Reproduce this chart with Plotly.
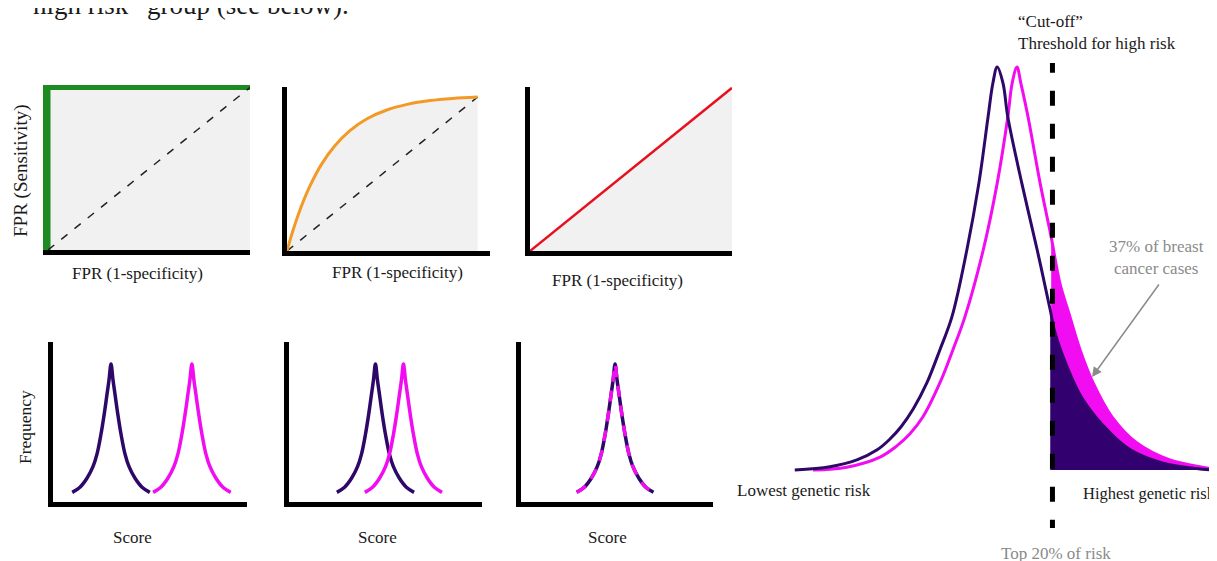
import plotly.graph_objects as go

W, H = 1217, 561
OFF = 8  # the page body adds an 8px margin around the figure

# ------------------------------------------------------------------ data
# Top row: ROC curves (x = false-positive rate, y = sensitivity)
ROC_DIAG_X = [0, 1]
ROC_DIAG_Y = [0, 1]
ROC_PERFECT_X = [0, 0, 1]
ROC_PERFECT_Y = [0, 1, 1]
ROC_GOOD_X = [0, 0.03, 0.07, 0.12, 0.18, 0.25, 0.33, 0.42, 0.52, 0.63, 0.75, 0.87, 1.0]
ROC_GOOD_Y = [0, 0.128, 0.273, 0.421, 0.561, 0.682, 0.782, 0.859, 0.914, 0.952, 0.977, 0.991, 1.0]
ROC_RANDOM_X = [0, 1]
ROC_RANDOM_Y = [0, 1]

# Bottom row: score distributions (peak shape)
PEAK_OFFSET = [-2.0, -1.6, -1.24, -0.93, -0.72, -0.52, -0.36, -0.21, -0.10, 0.0,
               0.10, 0.21, 0.36, 0.52, 0.72, 0.93, 1.24, 1.6, 2.0]
PEAK_FREQ = [0.07, 0.107, 0.172, 0.256, 0.349, 0.489, 0.628, 0.777, 0.888, 1.0,
             0.888, 0.777, 0.628, 0.489, 0.349, 0.256, 0.172, 0.107, 0.07]
SEPARATED_CENTERS = [2.99, 7.16]   # controls, cases
OVERLAP_CENTERS = [4.48, 5.93]
IDENTICAL_CENTERS = [4.90, 4.90]

# Right panel: genetic-risk distributions
RISK_X_CONTROLS = [12.4, 19.7, 25.3, 29.5, 32.0, 34.5, 37.0, 39.8, 42.5, 45.0, 48.1, 50.6,
                   52.5, 53.5, 54.4, 55.6, 56.6, 59.5, 62.7, 65.4, 66.4, 68.9, 72.2, 77.8,
                   82.0, 88.8, 97.1, 100]
RISK_Y_CONTROLS = [0, 0.008, 0.025, 0.050, 0.075, 0.108, 0.152, 0.216, 0.298, 0.380, 0.546,
                   0.712, 0.876, 0.960, 1.0, 0.960, 0.876, 0.712, 0.546, 0.397, 0.340, 0.256,
                   0.174, 0.092, 0.050, 0.017, 0.002, 0]
RISK_X_CASES = [16.2, 23.2, 30.1, 33.4, 36.3, 39.0, 42.5, 45.2, 47.7, 51.5, 54.4, 56.6,
                57.5, 58.5, 59.3, 60.8, 63.3, 65.6, 67.4, 69.5, 71.6, 74.3, 78.2, 83.4,
                90.2, 97.9, 100]
RISK_Y_CASES = [0, 0.007, 0.032, 0.058, 0.090, 0.132, 0.216, 0.298, 0.380, 0.546, 0.712,
                0.876, 0.960, 1.0, 0.960, 0.876, 0.712, 0.578, 0.464, 0.380, 0.298, 0.216,
                0.132, 0.067, 0.025, 0.005, 0]
CUTOFF = 65.86
CUTOFF_SPAN = [-0.161, 1.01]

# ------------------------------------------------------------------ style
PURPLE = "#2e0868"
MAGENTA = "#f20cf2"
GREEN = "#1e8a22"
ORANGE = "#f39a26"
RED = "#e8101e"
FILLGRAY = "#f1f1f1"
TXT = "#1a1a1a"
GRAYTXT = "#8a8a8a"
FONT = "Liberation Serif"
SMOOTH = 1.0


def px(x):
    return (x - OFF) / W


def py(y):
    return 1 - (y - OFF) / H


fig = go.Figure()


def axes(n, xdom, ydom, xr, yr, lines=True, ylinecolor="black"):
    common = dict(showgrid=False, zeroline=False, showticklabels=False,
                  ticks="", fixedrange=True)
    key = "" if n == 1 else str(n)
    xa = dict(domain=[px(xdom[0]), px(xdom[1])], range=xr, anchor="y" + key,
              showline=lines, linecolor="black", linewidth=5, **common)
    ya = dict(domain=[py(ydom[1]), py(ydom[0])], range=yr, anchor="x" + key,
              showline=lines, linecolor=ylinecolor, linewidth=5, **common)
    fig.layout["xaxis" + key] = xa
    fig.layout["yaxis" + key] = ya
    return ("x" + key, "y" + key)


# panels
a1 = axes(1, (48, 250), (85, 250), [0, 1], [0, 1.015], ylinecolor=GREEN)
a2 = axes(2, (287, 490), (87, 251), [0, 1.065], [0, 1.065])
a3 = axes(3, (530, 732), (87, 251), [0, 1], [0, 1.005])
a4 = axes(4, (53, 247), (342, 502), [0, 10], [0, 1.16])
a5 = axes(5, (289, 482), (342, 502), [0, 10], [0, 1.16])
a6 = axes(6, (521, 713), (342, 502), [0, 10], [0, 1.16])
a7 = axes(7, (735, 1217), (55, 528), [0, 100], [-0.144, 1.030], lines=False)


def add(ax, **kw):
    kw.setdefault("mode", "lines")
    kw.setdefault("hoverinfo", "skip")
    fig.add_trace(go.Scatter(xaxis=ax[0], yaxis=ax[1], showlegend=False, **kw))


# ---- ROC panels
add(a1, x=ROC_PERFECT_X, y=ROC_PERFECT_Y, fill="tozeroy", fillcolor=FILLGRAY,
    line=dict(color=GREEN, width=5))
add(a1, x=ROC_DIAG_X, y=ROC_DIAG_Y, line=dict(color="#222", width=1.5, dash="8px,9px"))

add(a2, x=ROC_GOOD_X, y=ROC_GOOD_Y, fill="tozeroy", fillcolor=FILLGRAY,
    line=dict(color=FILLGRAY, width=0, shape="spline"))
add(a2, x=ROC_DIAG_X, y=ROC_DIAG_Y, line=dict(color="#222", width=1.5, dash="8px,9px"))
add(a2, x=ROC_GOOD_X, y=ROC_GOOD_Y, line=dict(color=ORANGE, width=3, shape="spline"))

add(a3, x=ROC_RANDOM_X, y=ROC_RANDOM_Y, fill="tozeroy", fillcolor=FILLGRAY,
    line=dict(color=RED, width=2.5))


# ---- distribution panels
def peak(center):
    return [center + d for d in PEAK_OFFSET]


for ax, centers, dashed in ((a4, SEPARATED_CENTERS, False),
                            (a5, OVERLAP_CENTERS, False),
                            (a6, IDENTICAL_CENTERS, True)):
    add(ax, x=peak(centers[0]), y=PEAK_FREQ,
        line=dict(color=PURPLE, width=3.5, shape="spline"))
    add(ax, x=peak(centers[1]), y=PEAK_FREQ,
        line=dict(color=MAGENTA, width=3.5, shape="spline",
                  dash="11px,9px" if dashed else "solid"))

# ---- genetic risk panel (areas right of the cut-off)
tail_cases = [(x, y) for x, y in zip(RISK_X_CASES, RISK_Y_CASES) if x >= CUTOFF - 0.5]
tail_ctrl = [(x, y) for x, y in zip(RISK_X_CONTROLS, RISK_Y_CONTROLS) if x >= CUTOFF - 0.5]

add(a7, x=[p[0] for p in tail_cases], y=[p[1] for p in tail_cases], fill="tozeroy",
    fillcolor=MAGENTA, line=dict(color=MAGENTA, width=0.5, shape="spline", smoothing=SMOOTH))
add(a7, x=[p[0] for p in tail_ctrl], y=[p[1] for p in tail_ctrl], fill="tozeroy",
    fillcolor="#330070", line=dict(color="#330070", width=0.5, shape="spline", smoothing=SMOOTH))
add(a7, x=RISK_X_CASES, y=RISK_Y_CASES,
    line=dict(color=MAGENTA, width=3, shape="spline", smoothing=SMOOTH))
add(a7, x=RISK_X_CONTROLS, y=RISK_Y_CONTROLS,
    line=dict(color=PURPLE, width=3, shape="spline", smoothing=SMOOTH))
add(a7, x=[CUTOFF, CUTOFF], y=CUTOFF_SPAN, line=dict(color="black", width=5, dash="15px,18px"))


# ------------------------------------------------------------------ text
def note(text, x, y, size=17, color=TXT, xanchor="center", yanchor="middle", angle=0, align="center"):
    fig.add_annotation(text=text, x=px(x), y=py(y), xref="paper", yref="paper",
                       xanchor=xanchor, yanchor=yanchor, showarrow=False,
                       textangle=angle, align=align,
                       font=dict(family=FONT, size=size, color=color))


note("high risk” group (see below).", 31, 5, size=27, xanchor="left")
note("FPR (Sensitivity)", 21, 171, size=19, angle=-90)
note("FPR (1-specificity)", 137, 273)
note("FPR (1-specificity)", 397, 272)
note("FPR (1-specificity)", 617, 280)
note("Frequency", 25, 427, size=17.5, angle=-90)
note("Score", 132, 537)
note("Score", 377, 537)
note("Score", 607, 537)
note("“Cut-off”<br>Threshold for high risk", 1016, 33, xanchor="left", align="left")
note("37% of breast<br>cancer cases", 1156, 257, color=GRAYTXT)
note("Lowest genetic risk", 804, 490)
note("Highest genetic risk", 1081, 493, size=16.5, xanchor="left")
note("Top 20% of risk", 1056, 553, color=GRAYTXT)

fig.add_annotation(x=(1092 - 735) / 4.82, y=(470 - 377) / 403, xref="x7", yref="y7",
                   text="", showarrow=True, ax=68, ay=-94, arrowcolor="#8a8a8a",
                   arrowwidth=1.5, arrowhead=2, arrowsize=1.3)

fig.update_layout(width=W, height=H, margin=dict(l=0, r=0, t=0, b=0),
                  paper_bgcolor="white", plot_bgcolor="white", showlegend=False)

fig.write_html("out.html")
